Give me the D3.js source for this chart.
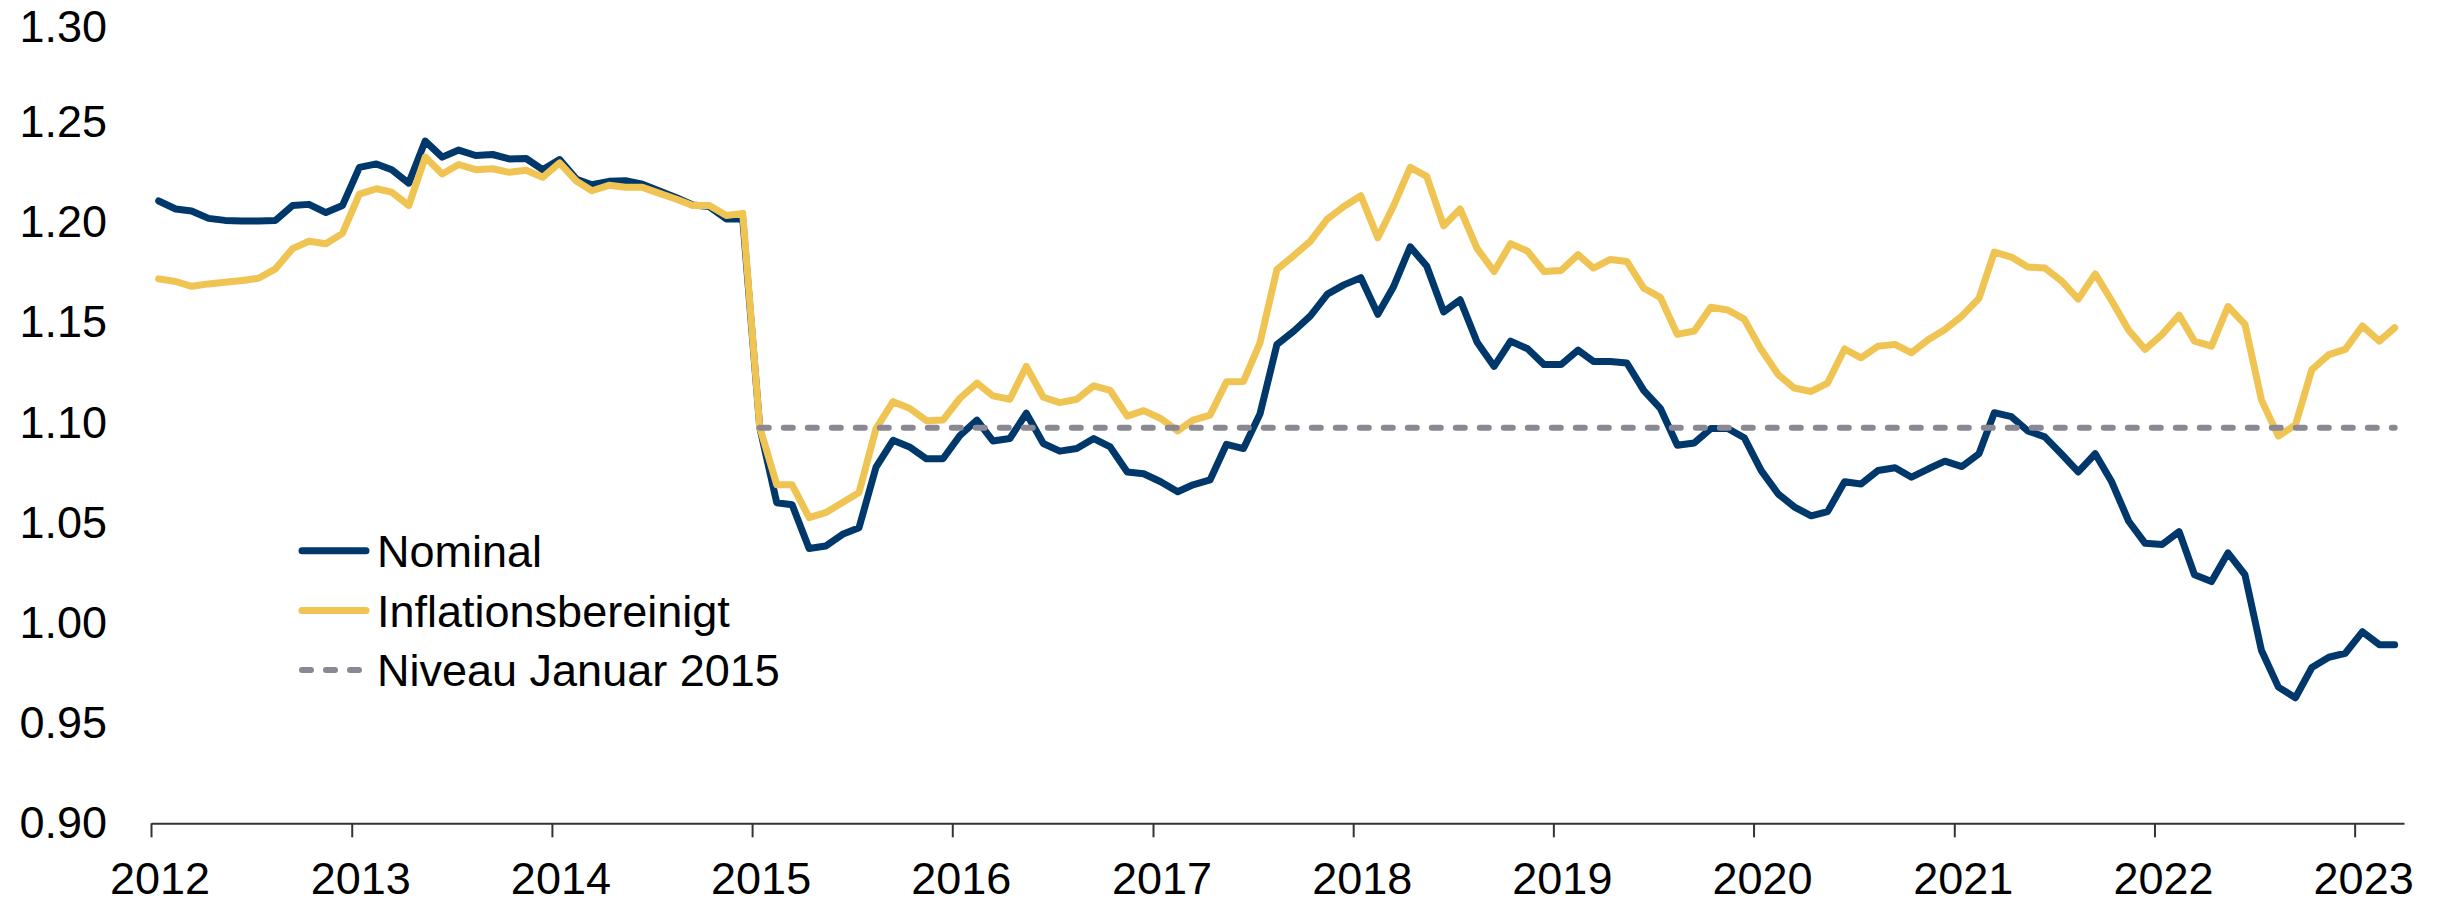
<!DOCTYPE html>
<html>
<head>
  <title>EUR/CHF nominal und inflationsbereinigt</title>
  <script src="https://d3js.org/d3.v7.min.js"></script>
  <style>
    body { margin: 0; background: #fff; }
    text { font-family: "Liberation Sans", Arial, Helvetica, sans-serif; fill: #000; }
  </style>
</head>
<body>
  <svg id="chart"></svg>
  <script>
    // monthly values, Jan 2012 .. Mar 2023
    const nominal = [
      1.2107, 1.2067, 1.2057, 1.2020, 1.2010, 1.2007, 1.2007, 1.2010, 1.2084, 1.2090, 1.2049, 1.2084,
      1.2275, 1.2292, 1.2263, 1.2196, 1.2406, 1.2326, 1.2361, 1.2334, 1.2339, 1.2317, 1.2319, 1.2263,
      1.2314, 1.2215, 1.2188, 1.2205, 1.2208, 1.2191, 1.2158, 1.2124, 1.2087, 1.2079, 1.2017, 1.2017,
      1.0976, 1.0600, 1.0590, 1.0372, 1.0384, 1.0443, 1.0476, 1.0778, 1.0912, 1.0879, 1.0820, 1.0820,
      1.0936, 1.1013, 1.0909, 1.0921, 1.1047, 1.0896, 1.0858, 1.0871, 1.0921, 1.0879, 1.0754, 1.0745,
      1.0705, 1.0655, 1.0690, 1.0714, 1.0892, 1.0871, 1.1043, 1.1391, 1.1458, 1.1533, 1.1642, 1.1688,
      1.1724, 1.1541, 1.1676, 1.1878, 1.1782, 1.1553, 1.1614, 1.1402, 1.1281, 1.1407, 1.1369, 1.1290,
      1.1290, 1.1362, 1.1306, 1.1306, 1.1298, 1.1160, 1.1072, 1.0887, 1.0899, 1.0971, 1.0971, 1.0925,
      1.0761, 1.0644, 1.0580, 1.0535, 1.0556, 1.0705, 1.0694, 1.0761, 1.0775, 1.0728, 1.0770, 1.0808,
      1.0781, 1.0845, 1.1050, 1.1030, 1.0959, 1.0929, 1.0845, 1.0754, 1.0845, 1.0705, 1.0508, 1.0398,
      1.0392, 1.0456, 1.0241, 1.0207, 1.0350, 1.0241, 0.9864, 0.9680, 0.9627, 0.9778, 0.9829, 0.9849,
      0.9956, 0.9892, 0.9892
    ];
    const real = [
      1.1718, 1.1705, 1.1681, 1.1693, 1.1701, 1.1710, 1.1721, 1.1768, 1.1869, 1.1906, 1.1893, 1.1945,
      1.2141, 1.2168, 1.2151, 1.2084, 1.2326, 1.2242, 1.2289, 1.2263, 1.2268, 1.2250, 1.2260, 1.2225,
      1.2297, 1.2205, 1.2158, 1.2185, 1.2175, 1.2175, 1.2146, 1.2117, 1.2084, 1.2084, 1.2034, 1.2045,
      1.0976, 1.0690, 1.0690, 1.0526, 1.0551, 1.0602, 1.0652, 1.0971, 1.1105, 1.1072, 1.1010, 1.1013,
      1.1122, 1.1198, 1.1134, 1.1117, 1.1281, 1.1127, 1.1100, 1.1117, 1.1184, 1.1161, 1.1033, 1.1060,
      1.1021, 1.0959, 1.1013, 1.1038, 1.1204, 1.1206, 1.1399, 1.1765, 1.1835, 1.1906, 1.2017, 1.2079,
      1.2133, 1.1923, 1.2079, 1.2275, 1.2230, 1.1983, 1.2067, 1.1869, 1.1755, 1.1894, 1.1856, 1.1755,
      1.1760, 1.1839, 1.1772, 1.1815, 1.1805, 1.1671, 1.1626, 1.1441, 1.1458, 1.1576, 1.1563, 1.1517,
      1.1365, 1.1240, 1.1173, 1.1156, 1.1198, 1.1368, 1.1324, 1.1382, 1.1391, 1.1349, 1.1415, 1.1465,
      1.1533, 1.1621, 1.1852, 1.1827, 1.1777, 1.1772, 1.1709, 1.1617, 1.1743, 1.1609, 1.1462, 1.1366,
      1.1441, 1.1537, 1.1407, 1.1382, 1.1580, 1.1491, 1.1114, 1.0933, 1.0989, 1.1265, 1.1340, 1.1366,
      1.1483, 1.1407, 1.1474
    ];
    const niveau = 1.0975;           // Niveau Januar 2015
    const niveauStart = 36;          // index of Jan 2015
    const yearTicks = [2012, 2013, 2014, 2015, 2016, 2017, 2018, 2019, 2020, 2021, 2022, 2023];
    const yTicks = [0.90, 0.95, 1.00, 1.05, 1.10, 1.15, 1.20, 1.25, 1.30];
    const legendLabels = ["Nominal", "Inflationsbereinigt", "Niveau Januar 2015"];

    const W = 2443, H = 904;
    const navy = "#00386b", gold = "#f0c453", grey = "#8a8993";

    const svg = d3.select("#chart").attr("width", W).attr("height", H);

    // month starts Jan 2012 .. Mar 2023, points sit mid-month
    const months = d3.utcMonth.range(new Date(Date.UTC(2012, 0, 1)), new Date(Date.UTC(2023, 3, 1)));
    const dates = months.map(m => d3.utcDay.offset(m, 14));

    const x = d3.scaleUtc()
      .domain([new Date(Date.UTC(2012, 0, 1)), new Date(Date.UTC(2023, 3, 1))])
      .range([151, 2404]);
    const y = d3.scaleLinear().domain([0.90, 1.30]).range([823.3, 22.1]);

    // x axis
    const xAxis = svg.append("g")
      .attr("transform", `translate(0,${y(0.90)})`)
      .call(d3.axisBottom(x)
        .tickValues(yearTicks.map(yr => new Date(Date.UTC(yr, 0, 1))))
        .tickFormat(d3.utcFormat("%Y"))
        .tickSize(14)
        .tickSizeOuter(0));
    xAxis.select(".domain").attr("stroke", "#333").attr("stroke-width", 2);
    xAxis.selectAll(".tick line").attr("stroke", "#333").attr("stroke-width", 2);
    xAxis.selectAll(".tick text")
      .attr("font-size", 45)
      .attr("fill", "#000")
      .attr("dx", 8.5)
      .attr("dy", 0)
      .attr("y", 71);

    // y labels, no axis line
    const yAxis = svg.append("g")
      .attr("transform", "translate(107,0)")
      .call(d3.axisLeft(y).tickValues(yTicks).tickFormat(d3.format(".2f")).tickSize(0).tickPadding(0));
    yAxis.select(".domain").remove();
    yAxis.selectAll(".tick text").attr("font-size", 45).attr("fill", "#000");
    // keep the top label inside the picture
    yAxis.selectAll(".tick text").filter(d => d === 1.30).attr("y", 5);

    const line = d3.line()
      .x((d, i) => x(dates[i]))
      .y(d => y(d));

    svg.append("path")
      .datum(nominal)
      .attr("fill", "none")
      .attr("stroke", navy)
      .attr("stroke-width", 7)
      .attr("stroke-linejoin", "round")
      .attr("stroke-linecap", "round")
      .attr("d", line);

    svg.append("path")
      .datum(real)
      .attr("fill", "none")
      .attr("stroke", gold)
      .attr("stroke-width", 7)
      .attr("stroke-linejoin", "round")
      .attr("stroke-linecap", "round")
      .attr("d", line);

    svg.append("line")
      .attr("x1", x(dates[niveauStart]))
      .attr("x2", x(dates[dates.length - 1]))
      .attr("y1", y(niveau))
      .attr("y2", y(niveau))
      .attr("stroke", grey)
      .attr("stroke-width", 6)
      .attr("stroke-linecap", "round")
      .attr("stroke-dasharray", "9,15");

    // legend
    const legend = svg.append("g").attr("transform", "translate(302,550.7)");
    const styles = [
      { color: navy, dash: null, width: 7 },
      { color: gold, dash: null, width: 7 },
      { color: grey, dash: "9,15", width: 6 }
    ];
    legendLabels.forEach((lab, i) => {
      const g = legend.append("g").attr("transform", `translate(0,${i * 59.7})`);
      g.append("line")
        .attr("x1", 0).attr("x2", styles[i].dash ? 60 : 64)
        .attr("stroke", styles[i].color)
        .attr("stroke-width", styles[i].width)
        .attr("stroke-linecap", "round")
        .attr("stroke-dasharray", styles[i].dash);
      g.append("text")
        .attr("x", 75)
        .attr("dy", "0.36em")
        .attr("font-size", 45)
        .text(lab);
    });
  </script>
</body>
</html>
